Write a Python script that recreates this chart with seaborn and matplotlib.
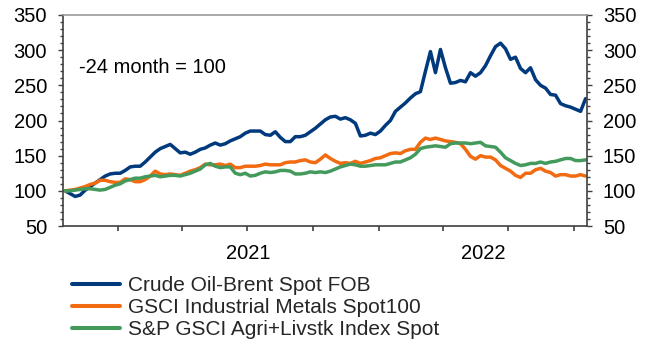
import numpy as np
import pandas as pd
import matplotlib
matplotlib.use("Agg")
import matplotlib.pyplot as plt
import matplotlib.dates as mdates
from matplotlib.ticker import MultipleLocator, NullFormatter
import seaborn as sns

# Weekly index levels, rebased so that the value 24 months earlier = 100
start_date = "2020-10-19"
n_weeks = 105

brent = [100, 96, 92, 94, 101, 106, 111, 116, 121, 124,
         125, 125, 129, 134, 135, 135, 141, 148, 155, 160,
         163, 166, 160, 154, 155, 152, 155, 159, 161, 165,
         168, 165, 167, 171, 174, 177, 182, 185, 185, 185,
         180, 179, 184, 176, 170, 170, 177, 177, 179, 184,
         189, 195, 201, 205, 206, 202, 204, 201, 196, 178,
         179, 182, 180, 185, 193, 200, 213, 219, 225, 232,
         238, 241, 270, 298, 268, 301, 275, 253, 254, 257,
         255, 268, 263, 268, 278, 292, 305, 310, 302, 287,
         290, 274, 268, 275, 258, 250, 246, 237, 236, 224,
         221, 219, 216, 213, 231]

metals = [100, 101, 102, 104, 106, 109, 111, 115, 115, 113,
          112, 112, 117, 116, 113, 113, 116, 121, 128, 124,
          123, 124, 123, 122, 125, 128, 130, 133, 138, 137,
          137, 138, 136, 138, 133, 133, 135, 135, 135, 136,
          138, 137, 137, 137, 140, 141, 141, 143, 144, 141,
          140, 145, 151, 146, 142, 139, 140, 139, 142, 139,
          141, 143, 146, 147, 150, 153, 154, 153, 157, 159,
          159, 169, 175, 173, 175, 173, 171, 170, 169, 167,
          159, 149, 145, 150, 148, 148, 144, 136, 132, 128,
          122, 119, 125, 125, 130, 132, 128, 126, 121, 123,
          123, 121, 121, 123, 121]

agri = [100, 100, 101, 102, 103, 103, 102, 101, 102, 105,
        108, 110, 114, 116, 118, 118, 120, 121, 122, 120,
        121, 122, 122, 121, 123, 125, 128, 131, 137, 139,
        135, 133, 134, 134, 125, 123, 125, 121, 122, 125,
        127, 126, 127, 129, 129, 128, 124, 124, 125, 127,
        126, 127, 126, 128, 131, 134, 136, 138, 137, 135,
        135, 136, 137, 137, 137, 139, 141, 141, 144, 147,
        152, 160, 162, 163, 164, 163, 162, 167, 168, 168,
        168, 167, 168, 169, 164, 163, 162, 155, 147, 143,
        139, 136, 137, 139, 139, 141, 139, 141, 142, 144,
        146, 146, 143, 143, 144]

series_names = ["Crude Oil-Brent Spot FOB",
                "GSCI Industrial Metals Spot100",
                "S&P GSCI Agri+Livstk Index Spot"]
series_colors = ["#003A7D", "#F26B10", "#449A5C"]
year_labels = ["2021", "2022"]
y_ticks = [50, 100, 150, 200, 250, 300, 350]

dates = pd.date_range(start_date, periods=n_weeks, freq="7D")
df = pd.concat([
    pd.DataFrame({"date": dates, "value": vals, "series": name})
    for name, vals in zip(series_names, [brent, metals, agri])
], ignore_index=True)

sns.set_theme(style="white")
plt.rcParams["font.family"] = ["Liberation Sans", "DejaVu Sans"]
FS = 14.5

fig = plt.figure(figsize=(6.53, 3.43), dpi=100)
ax = fig.add_axes([63 / 653, 1 - 226 / 343, (587 - 63) / 653, (226 - 15) / 343])

sns.lineplot(data=df, x="date", y="value", hue="series", hue_order=series_names,
             palette=series_colors, linewidth=2.5, ax=ax, legend=False)

x0, x1 = pd.Timestamp("2020-10-16"), pd.Timestamp("2022-10-19")
ax.set_xlim(x0, x1)
ax.set_ylim(50, 350)
ax.set_xlabel("")
ax.set_ylabel("")

# y axis: labels on both sides, minor ticks every 10
ax.set_yticks(y_ticks)
ax.yaxis.set_minor_locator(MultipleLocator(10))
ax.tick_params(axis="y", which="both", left=True, right=True,
               labelleft=True, labelright=True, direction="out",
               colors="#404040", labelcolor="black", labelsize=FS)
ax.tick_params(axis="y", which="major", length=3.5, width=1, pad=8)
ax.tick_params(axis="y", which="minor", length=2, width=1)

# x axis: quarter ticks, year labels centred in each visible year span
ax.xaxis.set_major_locator(mdates.MonthLocator(bymonth=[1, 4, 7, 10]))
ax.xaxis.set_major_formatter(NullFormatter())
ax.tick_params(axis="x", which="major", bottom=True, length=3.5, width=1.2,
               colors="#404040", direction="out")
year_centres = []
for y in year_labels:
    a = max(pd.Timestamp(f"{y}-01-01"), x0)
    b = min(pd.Timestamp(f"{int(y) + 1}-01-01"), x1)
    year_centres.append(a + (b - a) / 2)
ax.set_xticks(year_centres, minor=True)
ax.set_xticklabels(year_labels, minor=True)
ax.tick_params(axis="x", which="minor", length=0, labelsize=FS,
               labelcolor="black", pad=13)

for side in ["left", "right", "bottom"]:
    ax.spines[side].set_color("#404040")
    ax.spines[side].set_linewidth(1.2)
ax.spines["top"].set_color("#9A9A9A")
ax.spines["top"].set_linewidth(1.2)

ax.text(0.03, 0.749, "-24 month = 100", transform=ax.transAxes,
        fontsize=FS, color="black", va="center", ha="left")

handles = [plt.Line2D([], [], color=c, linewidth=2.9) for c in series_colors]
fig.legend(handles, series_names, loc="upper left",
           bbox_to_anchor=(72 / 653, 1 - 276 / 343), frameon=False,
           fontsize=15, handlelength=2.3, handletextpad=0.4,
           labelspacing=0.15, borderpad=0, borderaxespad=0)

fig.savefig("out.png", dpi=100)
